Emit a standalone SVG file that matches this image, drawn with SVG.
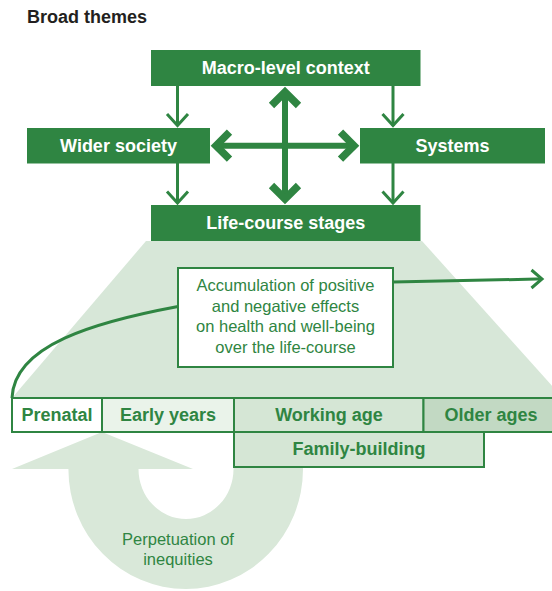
<svg xmlns="http://www.w3.org/2000/svg" width="552" height="591" viewBox="0 0 552 591">
<style>
.box{fill:#2f8542}
.hd{font-family:"Liberation Sans",Arial,sans-serif;font-weight:bold;font-size:18px;fill:#fff;text-anchor:middle}
.st{font-family:"Liberation Sans",Arial,sans-serif;font-weight:bold;font-size:18px;fill:#2f8542;text-anchor:middle}
.lt{font-family:"Liberation Sans",Arial,sans-serif;font-size:16.5px;fill:#2f8542;text-anchor:middle}
.thin{fill:none;stroke:#2f8542;stroke-width:3}
.thick{fill:none;stroke:#2f8542;stroke-width:6}
.head{fill:none;stroke:#2f8542;stroke-width:7.5}
.stage{stroke:#2f8542;stroke-width:2}
</style>
<rect width="552" height="591" fill="#fff"/>
<text x="27" y="22.7" font-family="Liberation Sans,Arial,sans-serif" font-weight="bold" font-size="18" fill="#231f20">Broad themes</text>

<g id="background">
<polygon points="146,241 422,241 563,398 12,398" fill="#d7e7d8"/>
<path d="M12,469 L102,432 L193,469 L138.5,469 A47.5,50 0 0 0 233.5,469 L233.5,466 L303,466 L303,469 A117.3,120 0 0 1 68.4,469 Z" fill="#d9e8d9"/>
</g>

<g id="connectors">
<line class="thin" x1="177.5" y1="86" x2="177.5" y2="126"/>
<polyline class="thin" points="167,114 177.5,125.5 188,114"/>
<line class="thin" x1="393" y1="86" x2="393" y2="126"/>
<polyline class="thin" points="382.5,114 393,125.5 403.5,114"/>
<line class="thin" x1="177.5" y1="163" x2="177.5" y2="203"/>
<polyline class="thin" points="167,191.5 177.5,203 188,191.5"/>
<line class="thin" x1="393" y1="163" x2="393" y2="203"/>
<polyline class="thin" points="382.5,191.5 393,203 403.5,191.5"/>
<line class="thick" x1="285" y1="92" x2="285" y2="199"/>
<polyline class="head" points="271.5,105.5 285,92 298.5,105.5"/>
<polyline class="head" points="271.5,185.5 285,199 298.5,185.5"/>
<line class="thick" x1="216" y1="145.7" x2="354" y2="145.7"/>
<polyline class="head" points="229.5,132.2 216,145.7 229.5,159.2"/>
<polyline class="head" points="340.5,132.2 354,145.7 340.5,159.2"/>
<path class="thin" d="M178,306.5 C95,322 14,345 12,398"/>
<path class="thin" d="M393,282 C460,280.5 500,279.5 541,279"/>
<polyline class="thin" points="531.5,270 542,279 531.5,288"/>
</g>

<g id="macro"><rect class="box" x="151" y="50" width="269.5" height="36"/><text class="hd" x="285.7" y="74">Macro-level context</text></g>
<g id="wider"><rect class="box" x="27" y="128" width="183" height="35.5"/><text class="hd" x="118.5" y="152">Wider society</text></g>
<g id="systems"><rect class="box" x="360" y="128" width="185" height="35.5"/><text class="hd" x="452.5" y="152">Systems</text></g>
<g id="lifecourse"><rect class="box" x="151" y="205" width="269.5" height="36"/><text class="hd" x="285.7" y="229">Life-course stages</text></g>

<g id="accumulation">
<rect x="178" y="268" width="215" height="99" fill="#fff" stroke="#2f8542" stroke-width="2"/>
<text class="lt" x="285.5" y="290.5">Accumulation of positive</text>
<text class="lt" x="285.5" y="311.5">and negative effects</text>
<text class="lt" x="285.5" y="332">on health and well-being</text>
<text class="lt" x="285.5" y="353">over the life-course</text>
</g>

<g id="prenatal"><rect class="stage" x="12" y="398" width="90" height="34" fill="#fff"/><text class="st" x="57" y="420.5">Prenatal</text></g>
<g id="early"><rect class="stage" x="102" y="398" width="132" height="34" fill="#eaf3ea"/><text class="st" x="168" y="420.5">Early years</text></g>
<g id="working"><rect class="stage" x="234" y="398" width="189.5" height="34" fill="#d5e6d5"/><text class="st" x="329" y="420.5">Working age</text></g>
<g id="older"><rect class="stage" x="423.5" y="398" width="140" height="34" fill="#c2d9c3"/><text class="st" x="491" y="420.5">Older ages</text></g>
<g id="family"><rect class="stage" x="234" y="432" width="250" height="35" fill="#d5e6d5"/><text class="st" x="359" y="455">Family-building</text></g>

<g id="perpetuation">
<text class="lt" x="178" y="544.5">Perpetuation of</text>
<text class="lt" x="178" y="565">inequities</text>
</g>
</svg>
